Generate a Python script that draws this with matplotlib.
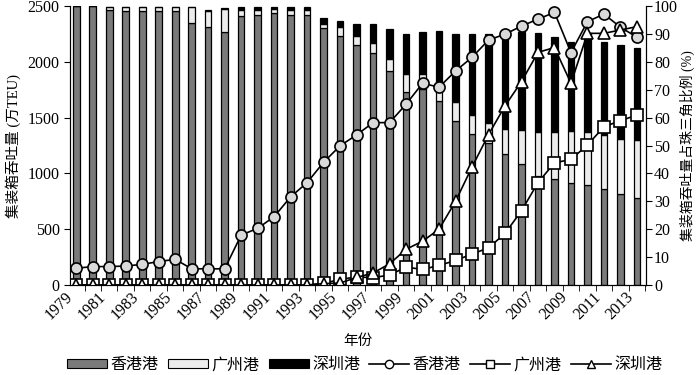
import numpy as np
import matplotlib
matplotlib.use("Agg")
import matplotlib.pyplot as plt
from matplotlib.patches import Patch
from matplotlib.lines import Line2D

plt.rcParams['font.family'] = ['Liberation Serif', 'Noto Sans CJK SC']

years = list(range(1979, 2014))

hk_bar = [2500, 2500, 2460, 2455, 2455, 2455, 2455, 2344, 2308, 2269,
          2410, 2415, 2433, 2415, 2415, 2299, 2227, 2155, 2079, 1922,
          1733, 1760, 1650, 1473, 1356, 1275, 1170, 1080, 975, 950,
          910, 895, 862, 815, 780]
gz_bar = [0, 0, 30, 35, 35, 35, 35, 150, 150, 200,
          50, 45, 40, 45, 45, 40, 85, 80, 85, 99,
          160, 130, 130, 165, 170, 180, 230, 312, 400, 420,
          470, 480, 480, 495, 515]
sz_bar = [0, 0, 0, 0, 0, 0, 0, 0, 5, 10,
          34, 34, 21, 27, 34, 56, 53, 106, 177, 275,
          358, 379, 495, 607, 725, 796, 869, 877, 885, 852,
          797, 879, 834, 839, 831]

hk_pct = [6.0, 6.6, 6.6, 6.8, 7.4, 8.4, 9.2, 5.8, 5.8, 5.8,
          17.9, 20.3, 24.5, 31.6, 36.7, 44.0, 49.9, 53.8, 58.2, 58.2,
          64.8, 72.3, 70.9, 76.7, 81.6, 87.8, 89.9, 92.8, 95.3, 97.7,
          83.3, 94.4, 97.1, 92.4, 88.8]
gz_pct = [0, 0, 0, 0, 0, 0, 0, 0, 0, 0,
          0, 0, 0, 0, 0, 0.6, 2.0, 2.9, 2.6, 3.6,
          6.4, 5.6, 7.0, 8.8, 11.1, 13.3, 18.5, 26.6, 36.7, 43.8,
          45.0, 50.2, 56.7, 58.9, 60.9]
sz_pct = [0, 0, 0, 0, 0, 0, 0, 0, 0, 0,
          0, 0, 0, 0, 0, 0.5, 0.7, 2.7, 4.3, 7.6,
          12.8, 15.7, 20.0, 30.0, 42.3, 53.9, 64.2, 72.9, 83.4, 85.1,
          72.3, 90.2, 90.2, 91.4, 92.6]

labels = ['香港港', '广州港', '深圳港']

fig = plt.figure(figsize=(7, 3.75), dpi=100)
ax = fig.add_axes([0.1, 0.24, 0.8224, 0.744])
x = np.arange(len(years))
hk = np.array(hk_bar); gz = np.array(gz_bar); sz = np.array(sz_bar)
w = 0.4
ax.bar(x, hk, w, color='#7a7a7a', edgecolor='black', linewidth=0.9)
ax.bar(x, gz, w, bottom=hk, color='#ececec', edgecolor='black', linewidth=0.9)
ax.bar(x, sz, w, bottom=hk + gz, color='black', edgecolor='black', linewidth=0.9)
ax.set_ylim(0, 2500)
ax.set_xlim(-0.38, 34.53)
ax.set_yticks(range(0, 2501, 500))
ax.set_xticks(x[::2])
ax.set_xticklabels([str(y) for y in years[::2]], rotation=45, ha='right', fontsize=11.5)
ax.set_xticks(np.arange(-0.5, 35, 1), minor=True)
ax.tick_params(axis='x', which='major', length=0, pad=3)
ax.tick_params(axis='x', which='minor', length=4, direction='out')
ax.tick_params(axis='y', labelsize=11.5, length=4, direction='out')
ax.spines['top'].set_visible(False)
ax.set_ylabel('集装箱吞吐量 (万TEU)', fontsize=10.5, labelpad=5)
ax.set_xlabel('年份', fontsize=10.5, labelpad=8)

ax2 = ax.twinx()
mk = dict(color='black', linewidth=1.2, markersize=8, markeredgecolor='black', markeredgewidth=1.2)
ax2.plot(x, hk_pct, marker='o', markerfacecolor='#d9d9d9', **mk)
ax2.plot(x, gz_pct, marker='s', markerfacecolor='white', **mk)
ax2.plot(x, sz_pct, marker='^', markerfacecolor='white', **mk)
ax2.set_ylim(0, 100)
ax2.set_yticks(range(0, 101, 10))
ax2.tick_params(axis='y', labelsize=11.5, length=4, direction='out', pad=2)
ax2.spines['top'].set_visible(False)
ax2.set_ylabel('集装箱吞吐量占珠三角比例 (%)', fontsize=10, labelpad=1)
ax2.set_xlim(-0.38, 34.53)

handles = [
    Patch(facecolor='#7a7a7a', edgecolor='black', linewidth=0.8),
    Patch(facecolor='#ececec', edgecolor='black', linewidth=0.8),
    Patch(facecolor='black', edgecolor='black', linewidth=0.8),
    Line2D([], [], marker='o', markerfacecolor='white', color='black', markersize=6, linewidth=1.2),
    Line2D([], [], marker='s', markerfacecolor='white', color='black', markersize=6, linewidth=1.2),
    Line2D([], [], marker='^', markerfacecolor='white', color='black', markersize=6, linewidth=1.2),
]
fig.legend(handles, labels + labels, loc='center', bbox_to_anchor=(0.521, 0.026),
           ncol=6, frameon=False, fontsize=11.5, handlelength=2.5, handletextpad=0.2,
           columnspacing=0.6, handleheight=0.45, borderpad=0.1)

fig.savefig('out.png', dpi=100)
